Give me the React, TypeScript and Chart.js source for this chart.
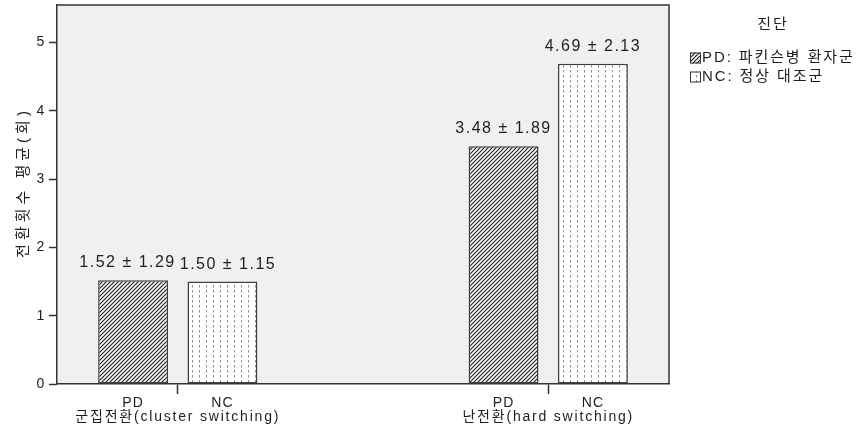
import React, { useEffect, useRef } from "react";
import { Chart, registerables } from "chart.js";

Chart.register(...registerables);

// ---- data ----
const categories = ["군집전환(cluster switching)", "난전환(hard switching)"];
const seriesNames = ["PD: 파킨슨병 환자군", "NC: 정상 대조군"];
const seriesShort = ["PD", "NC"];
const pdMeans = [1.52, 3.48];
const pdSds = [1.29, 1.89];
const ncMeans = [1.5, 4.69];
const ncSds = [1.15, 2.13];
const yTickValues = [0, 1, 2, 3, 4, 5];
const yTitle = "전환횟수 평균(회)";
const legendTitle = "진단";

const FONT = "'Liberation Sans', Arial, 'Noto Sans CJK KR', sans-serif";
const TEXT = "#1e1e1e";
const LINE = "#333333";

function hatchPattern(ctx: CanvasRenderingContext2D) {
  const c = document.createElement("canvas");
  c.width = 4;
  c.height = 4;
  const g = c.getContext("2d")!;
  g.fillStyle = "#ffffff";
  g.fillRect(0, 0, 4, 4);
  g.strokeStyle = "#222222";
  g.lineWidth = 1.2;
  g.beginPath();
  g.moveTo(0, 4);
  g.lineTo(4, 0);
  g.moveTo(-1, 1);
  g.lineTo(1, -1);
  g.moveTo(3, 5);
  g.lineTo(5, 3);
  g.stroke();
  return ctx.createPattern(c, "repeat")!;
}

function dotPattern(ctx: CanvasRenderingContext2D) {
  const c = document.createElement("canvas");
  c.width = 7;
  c.height = 5;
  const g = c.getContext("2d")!;
  g.fillStyle = "#ffffff";
  g.fillRect(0, 0, 7, 5);
  g.fillStyle = "#8c8c8c";
  g.fillRect(3, 0, 1, 2.5);
  return ctx.createPattern(c, "repeat")!;
}

const fmt = (m: number, s: number) => `${m.toFixed(2)} ± ${s.toFixed(2)}`;

export default function App() {
  const ref = useRef<HTMLCanvasElement>(null);

  useEffect(() => {
    document.body.style.margin = "0";
    const canvas = ref.current!;
    const ctx = canvas.getContext("2d")!;
    const patterns = [hatchPattern(ctx), dotPattern(ctx)];
    const means = [pdMeans, ncMeans];
    const sds = [pdSds, ncSds];

    const spacingPlugin = {
      id: "spacing",
      beforeLayout(chart: any) {
        chart.ctx.letterSpacing = "1.8px";
      },
      beforeDraw(chart: any) {
        const c = chart.ctx;
        c.letterSpacing = "1.8px";
        const a = chart.chartArea;
        c.save();
        c.fillStyle = "#f0f0f0";
        c.fillRect(a.left, a.top, a.right - a.left, a.bottom - a.top);
        c.restore();
      },
    };

    const decoPlugin = {
      id: "deco",
      afterDatasetsDraw(chart: any) {
        const c = chart.ctx as CanvasRenderingContext2D;
        const a = chart.chartArea;
        // frame top/right
        c.save();
        c.strokeStyle = LINE;
        c.lineWidth = 1.5;
        c.beginPath();
        c.moveTo(a.left, a.top);
        c.lineTo(a.right, a.top);
        c.lineTo(a.right, a.bottom);
        c.stroke();
        c.restore();

        // value labels
        c.save();
        c.font = `16px ${FONT}`;
        (c as any).letterSpacing = "1.5px";
        c.fillStyle = TEXT;
        c.textAlign = "center";
        c.textBaseline = "middle";
        const m0 = chart.getDatasetMeta(0);
        const m1 = chart.getDatasetMeta(1);
        for (let i = 0; i < categories.length; i++) {
          const e0 = m0.data[i];
          const e1 = m1.data[i];
          const t0 = fmt(means[0][i], sds[0][i]);
          const t1 = fmt(means[1][i], sds[1][i]);
          const w0 = c.measureText(t0).width;
          const w1 = c.measureText(t1).width;
          let x0 = e0.x;
          let x1 = e1.x;
          const y0 = e0.y - 18;
          const y1 = e1.y - 17;
          if (Math.abs(y0 - y1) < 18) {
            const overlap = x0 + w0 / 2 + 4 - (x1 - w1 / 2);
            if (overlap > 0) {
              x0 -= overlap / 2;
              x1 += overlap / 2;
            }
          }
          c.fillText(t0, x0, y0);
          c.fillText(t1, x1, y1);
        }
        c.restore();

        // series short labels under bars
        c.save();
        c.font = `14px ${FONT}`;
        (c as any).letterSpacing = "1px";
        c.fillStyle = TEXT;
        c.textAlign = "center";
        c.textBaseline = "middle";
        [m0, m1].forEach((m: any, d: number) => {
          m.data.forEach((el: any) => {
            c.fillText(seriesShort[d], el.x, a.bottom + 19);
          });
        });
        c.restore();

        // y title
        c.save();
        c.font = `15px ${FONT}`;
        (c as any).letterSpacing = "4px";
        c.fillStyle = TEXT;
        c.textAlign = "center";
        c.textBaseline = "middle";
        c.translate(24, (a.top + a.bottom) / 2 - 12);
        c.rotate(-Math.PI / 2);
        c.fillText(yTitle, 0, 0);
        c.restore();

        // legend
        c.save();
        c.fillStyle = TEXT;
        c.textBaseline = "middle";
        c.font = `15px ${FONT}`;
        (c as any).letterSpacing = "2px";
        c.textAlign = "center";
        c.fillText(legendTitle, 773, 25);
        c.textAlign = "left";
        c.font = `15px ${FONT}`;
        (c as any).letterSpacing = "1.9px";
        seriesNames.forEach((name, d) => {
          const cy = 58 + d * 19;
          c.fillStyle = patterns[d];
          c.fillRect(690, cy - 5.5, 11, 11);
          c.strokeStyle = LINE;
          c.lineWidth = 1;
          c.strokeRect(690.5, cy - 5, 10, 10);
          c.fillStyle = TEXT;
          c.fillText(name, 702, cy);
        });
        c.restore();
      },
    };

    const chart = new Chart(ctx, {
      type: "bar",
      data: {
        datasets: [pdMeans, ncMeans].map((vals, d) => ({
          label: seriesNames[d],
          data: vals.map((v, i) => ({ x: i, y: v })),
          backgroundColor: patterns[d],
          borderColor: "#404040",
          borderWidth: 1.5,
          borderSkipped: false,
          categoryPercentage: 0.4825,
          barPercentage: 0.782,
        })),
      },
      options: {
        animation: false,
        responsive: false,
        devicePixelRatio: 1,
        layout: { padding: { left: 0, top: 5, right: 199, bottom: 0 } },
        font: { family: FONT },
        plugins: {
          legend: { display: false },
          tooltip: { enabled: false },
        },
        scales: {
          x: {
            type: "linear",
            min: -0.326,
            max: 1.326,
            offset: false,
            grid: {
              display: true,
              offset: false,
              drawOnChartArea: false,
              drawTicks: true,
              tickLength: 10,
              tickColor: LINE,
              tickWidth: 1.5,
            },
            border: { display: true, color: LINE, width: 1.5 },
            afterBuildTicks: (s: any) => {
              s.ticks = categories.map((_, i) => ({ value: i }));
            },
            ticks: {
              autoSkip: false,
              maxRotation: 0,
              padding: 15,
              color: TEXT,
              font: { family: FONT, size: 14 },
              callback: (_v: any, i: number) => categories[i],
            },
            afterFit: (s: any) => {
              s.height = 52;
              s.paddingLeft = 0;
              s.paddingRight = 0;
            },
          } as any,
          y: {
            type: "linear",
            min: 0,
            max: 5.55,
            afterBuildTicks: (s: any) => {
              s.ticks = yTickValues.map((v) => ({ value: v }));
            },
            grid: {
              drawOnChartArea: false,
              drawTicks: true,
              tickLength: 8,
              tickColor: LINE,
              tickWidth: 1.5,
            },
            border: { display: true, color: LINE, width: 1.5 },
            ticks: {
              padding: 3,
              color: TEXT,
              font: { family: FONT, size: 14 },
            },
            afterFit: (s: any) => {
              s.width = 57;
              s.paddingTop = 0;
              s.paddingBottom = 0;
            },
          } as any,
        },
      },
      plugins: [spacingPlugin, decoPlugin],
    } as any);

    return () => chart.destroy();
  }, []);

  return (
    <div style={{ width: 868, height: 436 }}>
      <canvas ref={ref} width={868} height={436} style={{ display: "block" }} />
    </div>
  );
}
